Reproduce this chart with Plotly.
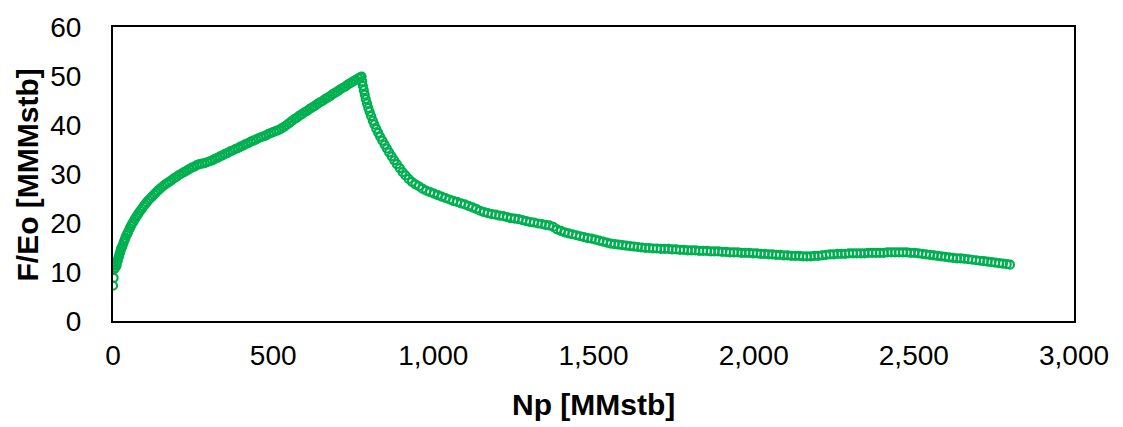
import plotly.graph_objects as go

# Np [MMstb] and F/Eo [MMMstb]
np_rise = [0, 2, 4, 5, 7, 9, 11, 13, 15, 17, 19, 21, 23, 25, 27, 30, 33, 36, 39, 42,
           45, 48, 52, 56, 60, 64, 68, 72, 76, 80, 85, 90, 95, 100, 105, 110, 116, 122, 128, 134,
           140, 147, 154, 161, 168, 175, 182, 190, 198, 206, 214, 222, 230, 238, 246, 254, 262, 270, 278, 286]
feo_rise = [7.2, 8.8, 10.6, 11.4, 10.9, 11.7, 11.3, 12.0, 12.4, 12.9, 13.3, 13.8, 14.2, 14.7, 15.0, 15.4, 16.0, 16.5, 17.0, 17.5,
            17.9, 18.3, 18.9, 19.4, 19.9, 20.3, 20.8, 21.2, 21.6, 22.0, 22.5, 22.9, 23.4, 23.8, 24.2, 24.6, 25.0, 25.4, 25.8, 26.2,
            26.6, 27.0, 27.4, 27.8, 28.1, 28.4, 28.7, 29.1, 29.4, 29.8, 30.1, 30.4, 30.7, 31.0, 31.3, 31.5, 31.8, 32.0, 32.1, 32.2]

np_mid = [294, 302, 310, 318, 326, 334, 342, 350, 358, 366, 374, 382, 390, 398, 406,
          414, 422, 430, 438, 446, 454, 462, 470, 478, 486, 494, 502, 510, 518, 526]
feo_mid = [32.4, 32.6, 32.8, 33.1, 33.3, 33.6, 33.8, 34.1, 34.3, 34.6, 34.8, 35.1, 35.3, 35.6, 35.8,
           36.1, 36.3, 36.6, 36.8, 37.0, 37.3, 37.5, 37.7, 37.9, 38.2, 38.4, 38.6, 38.8, 39.0, 39.3]

np_peak = [534, 542, 550, 558, 566, 574, 582, 590, 598, 606, 614, 622, 630, 638, 646, 654,
           662, 670, 678, 686, 694, 702, 710, 718, 726, 734, 742, 750, 758, 766, 772, 776]
feo_peak = [39.6, 40.0, 40.4, 40.8, 41.2, 41.5, 41.9, 42.2, 42.6, 42.9, 43.3, 43.6, 43.9, 44.3, 44.6, 44.9,
            45.3, 45.6, 45.9, 46.3, 46.6, 46.9, 47.3, 47.6, 47.9, 48.3, 48.6, 48.9, 49.2, 49.5, 49.7, 49.9]

np_fall = [778, 780, 783, 786, 789, 793, 797, 801, 806, 811, 816, 822, 828, 834, 841, 848, 855, 862, 870, 878,
           886, 895, 904, 913, 923, 933, 944, 955, 966, 978,
           990, 1002, 1014, 1026, 1038, 1050, 1062, 1074, 1086, 1098,
           1110, 1122, 1134, 1146, 1158, 1170, 1182, 1194, 1206, 1218,
           1230, 1242, 1254, 1266, 1278, 1290, 1302, 1314, 1326, 1338,
           1350, 1362, 1374, 1386, 1398, 1410, 1422, 1434, 1446, 1458,
           1470, 1482, 1494, 1506, 1518, 1530, 1542, 1554, 1566, 1578,
           1590, 1602, 1614, 1626, 1638, 1650]
feo_fall = [48.9, 48.0, 47.1, 46.2, 45.3, 44.4, 43.5, 42.7, 41.8, 40.9, 40.1, 39.2, 38.4, 37.6, 36.8, 36.0, 35.2, 34.4, 33.6, 32.8,
            32.0, 31.2, 30.4, 29.7, 29.0, 28.4, 27.9, 27.5, 27.0, 26.6,
            26.3, 26.0, 25.7, 25.4, 25.1, 24.8, 24.5, 24.3, 24.0, 23.8,
            23.5, 23.2, 22.9, 22.5, 22.2, 22.0, 21.8, 21.7, 21.5, 21.4,
            21.2, 21.0, 20.9, 20.8, 20.6, 20.4, 20.2, 20.1, 19.9, 19.8,
            19.6, 19.5, 19.2, 18.7, 18.4, 18.1, 17.9, 17.7, 17.5, 17.3,
            17.1, 16.9, 16.8, 16.6, 16.4, 16.2, 16.0, 15.8, 15.7, 15.6,
            15.5, 15.4, 15.3, 15.2, 15.1, 15.0]

np_tail = [1662, 1674, 1686, 1698, 1710, 1722, 1734, 1746, 1758, 1770,
           1782, 1794, 1806, 1818, 1830, 1842, 1854, 1866, 1878, 1890,
           1902, 1914, 1926, 1938, 1950, 1962, 1974, 1986, 1998, 2010,
           2022, 2034, 2046, 2058, 2070, 2082, 2094, 2106, 2118, 2130,
           2142, 2154, 2166, 2178, 2190, 2202, 2214, 2226, 2238, 2250,
           2262, 2274, 2286, 2298, 2310, 2322, 2334, 2346, 2358, 2370,
           2382, 2394, 2406, 2418, 2430, 2442, 2454, 2466, 2478, 2490,
           2502, 2514, 2526, 2538, 2550, 2562, 2574, 2586, 2598, 2610,
           2622, 2634, 2646, 2658, 2670, 2682, 2694, 2706, 2718, 2730,
           2742, 2754, 2766, 2778, 2790, 2800]
feo_tail = [14.9, 14.9, 14.8, 14.8, 14.7, 14.7, 14.7, 14.6, 14.6, 14.5,
            14.5, 14.4, 14.4, 14.4, 14.3, 14.3, 14.3, 14.2, 14.2, 14.2,
            14.1, 14.1, 14.0, 14.0, 14.0, 13.9, 13.9, 13.9, 13.8, 13.8,
            13.7, 13.7, 13.6, 13.6, 13.5, 13.5, 13.4, 13.4, 13.3, 13.3,
            13.3, 13.2, 13.2, 13.2, 13.3, 13.3, 13.4, 13.5, 13.6, 13.6,
            13.7, 13.7, 13.7, 13.8, 13.8, 13.8, 13.8, 13.8, 13.9, 13.9,
            13.9, 13.9, 13.9, 14.0, 14.0, 14.0, 14.0, 14.0, 14.0, 13.9,
            13.9, 13.8, 13.7, 13.6, 13.5, 13.4, 13.3, 13.2, 13.1, 13.0,
            12.9, 12.8, 12.8, 12.7, 12.6, 12.5, 12.4, 12.3, 12.2, 12.1,
            12.0, 11.9, 11.8, 11.7, 11.6, 11.5]

x_ticks = [0, 500, 1000, 1500, 2000, 2500, 3000]
y_ticks = [0, 10, 20, 30, 40, 50, 60]

np_all = np_rise + np_mid + np_peak + np_fall + np_tail
feo_all = feo_rise + feo_mid + feo_peak + feo_fall + feo_tail
assert len(np_all) == len(feo_all)

FONT = "Liberation Sans, Arial, sans-serif"
GREEN = "#00B050"

fig = go.Figure()
fig.add_trace(go.Scatter(
    x=np_all, y=feo_all, mode="markers",
    marker=dict(symbol="circle-open", size=8, color=GREEN, line=dict(width=2.2, color=GREEN)),
    showlegend=False, hoverinfo="x+y",
))

axis_common = dict(showgrid=False, zeroline=False, showline=True, linecolor="black",
                   linewidth=2, mirror=True, ticks="",
                   tickfont=dict(family=FONT, size=28, color="black"))
fig.update_xaxes(range=[0, 3000], tickvals=x_ticks, tickformat=",", ticklabelstandoff=8, **axis_common)
fig.update_yaxes(range=[0, 60], tickvals=y_ticks, ticklabelstandoff=24, **axis_common)

fig.add_annotation(text="<b>Np [MMstb]</b>", xref="paper", yref="paper", x=0.5, y=0,
                   xanchor="center", yanchor="middle", yshift=-83, showarrow=False,
                   font=dict(family=FONT, size=30, color="black"))
fig.add_annotation(text="<b>F/Eo [MMMstb]</b>", xref="paper", yref="paper", x=0, y=0.495,
                   xanchor="center", yanchor="middle", xshift=-86, textangle=-90, showarrow=False,
                   font=dict(family=FONT, size=30, color="black"))

fig.update_layout(width=1123, height=427, margin=dict(l=113, r=49, t=20, b=106),
                  plot_bgcolor="white", paper_bgcolor="white")
fig.write_html("out.html", config={"displayModeBar": False},
               post_script="document.body.style.margin='0px';document.body.style.overflow='hidden';")
